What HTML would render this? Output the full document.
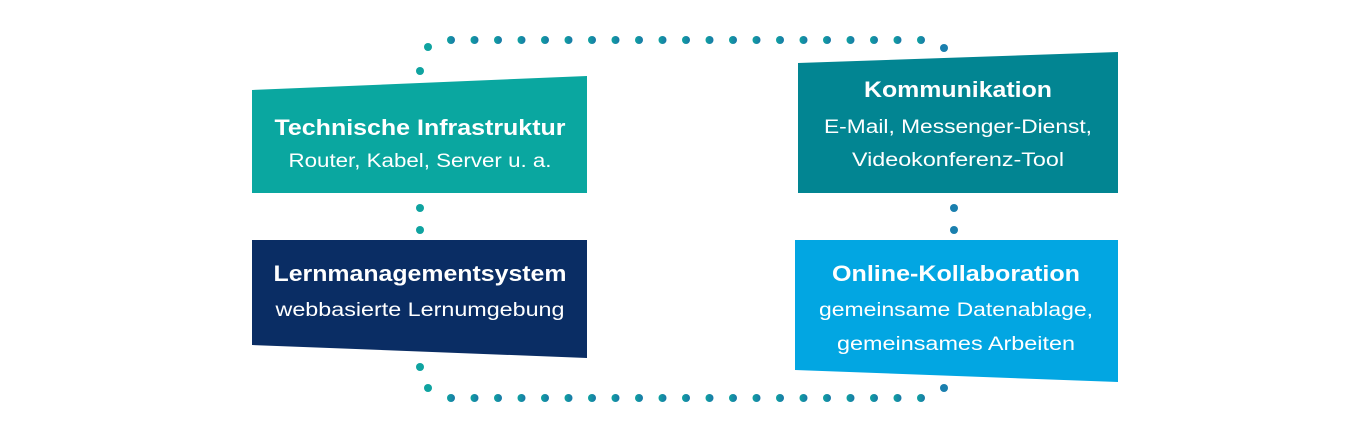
<!DOCTYPE html>
<html><head><meta charset="utf-8"><style>
html,body{margin:0;padding:0;background:#fff;width:1355px;height:448px;overflow:hidden}
svg text{font-family:"Liberation Sans",sans-serif;fill:#fff;text-anchor:middle}
.t{font-weight:bold;font-size:22px}
.s{font-size:19px}
</style></head><body>
<svg width="1355" height="448" viewBox="0 0 1355 448">
<defs><linearGradient id="g" x1="0" x2="1"><stop offset="0" stop-color="#0fa3a0"/><stop offset="1" stop-color="#1a78a8"/></linearGradient></defs>
<polygon points="252,90 587,76 587,193 252,193" fill="#0aa7a0"/>
<polygon points="798,63 1118,52 1118,193 798,193" fill="#028592"/>
<polygon points="252,240 587,240 587,358 252,345" fill="#0a2d64"/>
<polygon points="795,240 1118,240 1118,382 795,370" fill="#02a6e2"/>
<text x="420" y="135" class="t" textLength="291" lengthAdjust="spacingAndGlyphs">Technische Infrastruktur</text>
<text x="420" y="167" class="s" textLength="263" lengthAdjust="spacingAndGlyphs">Router, Kabel, Server u. a.</text>
<text x="958" y="97" class="t" textLength="188" lengthAdjust="spacingAndGlyphs">Kommunikation</text>
<text x="958" y="133" class="s" textLength="268" lengthAdjust="spacingAndGlyphs">E-Mail, Messenger-Dienst,</text>
<text x="958" y="166" class="s" textLength="212" lengthAdjust="spacingAndGlyphs">Videokonferenz-Tool</text>
<text x="420" y="281" class="t" textLength="293" lengthAdjust="spacingAndGlyphs">Lernmanagementsystem</text>
<text x="420" y="316" class="s" textLength="289" lengthAdjust="spacingAndGlyphs">webbasierte Lernumgebung</text>
<text x="956" y="281" class="t" textLength="248" lengthAdjust="spacingAndGlyphs">Online-Kollaboration</text>
<text x="956" y="316" class="s" textLength="274" lengthAdjust="spacingAndGlyphs">gemeinsame Datenablage,</text>
<text x="956" y="350" class="s" textLength="238" lengthAdjust="spacingAndGlyphs">gemeinsames Arbeiten</text>
<g fill="#0fa3a0">
<circle cx="420" cy="71" r="4"/><circle cx="428" cy="47" r="4"/>
<circle cx="420" cy="208" r="4"/><circle cx="420" cy="230" r="4"/>
<circle cx="420" cy="367" r="4"/><circle cx="428" cy="388" r="4"/>
</g>
<g fill="#1a7fae">
<circle cx="944" cy="48" r="4"/>
<circle cx="954" cy="208" r="4"/><circle cx="954" cy="230" r="4"/>
<circle cx="944" cy="388" r="4"/>
</g>
<g fill="url(#g)">
<circle cx="451" cy="40" r="4"/><circle cx="474.5" cy="40" r="4"/><circle cx="498" cy="40" r="4"/><circle cx="521.5" cy="40" r="4"/><circle cx="545" cy="40" r="4"/><circle cx="568.5" cy="40" r="4"/><circle cx="592" cy="40" r="4"/><circle cx="615.5" cy="40" r="4"/><circle cx="639" cy="40" r="4"/><circle cx="662.5" cy="40" r="4"/><circle cx="686" cy="40" r="4"/><circle cx="709.5" cy="40" r="4"/><circle cx="733" cy="40" r="4"/><circle cx="756.5" cy="40" r="4"/><circle cx="780" cy="40" r="4"/><circle cx="803.5" cy="40" r="4"/><circle cx="827" cy="40" r="4"/><circle cx="850.5" cy="40" r="4"/><circle cx="874" cy="40" r="4"/><circle cx="897.5" cy="40" r="4"/><circle cx="921" cy="40" r="4"/>
</g>
<g fill="url(#g)">
<circle cx="451" cy="398" r="4"/><circle cx="474.5" cy="398" r="4"/><circle cx="498" cy="398" r="4"/><circle cx="521.5" cy="398" r="4"/><circle cx="545" cy="398" r="4"/><circle cx="568.5" cy="398" r="4"/><circle cx="592" cy="398" r="4"/><circle cx="615.5" cy="398" r="4"/><circle cx="639" cy="398" r="4"/><circle cx="662.5" cy="398" r="4"/><circle cx="686" cy="398" r="4"/><circle cx="709.5" cy="398" r="4"/><circle cx="733" cy="398" r="4"/><circle cx="756.5" cy="398" r="4"/><circle cx="780" cy="398" r="4"/><circle cx="803.5" cy="398" r="4"/><circle cx="827" cy="398" r="4"/><circle cx="850.5" cy="398" r="4"/><circle cx="874" cy="398" r="4"/><circle cx="897.5" cy="398" r="4"/><circle cx="921" cy="398" r="4"/>
</g>
</svg>
</body></html>
